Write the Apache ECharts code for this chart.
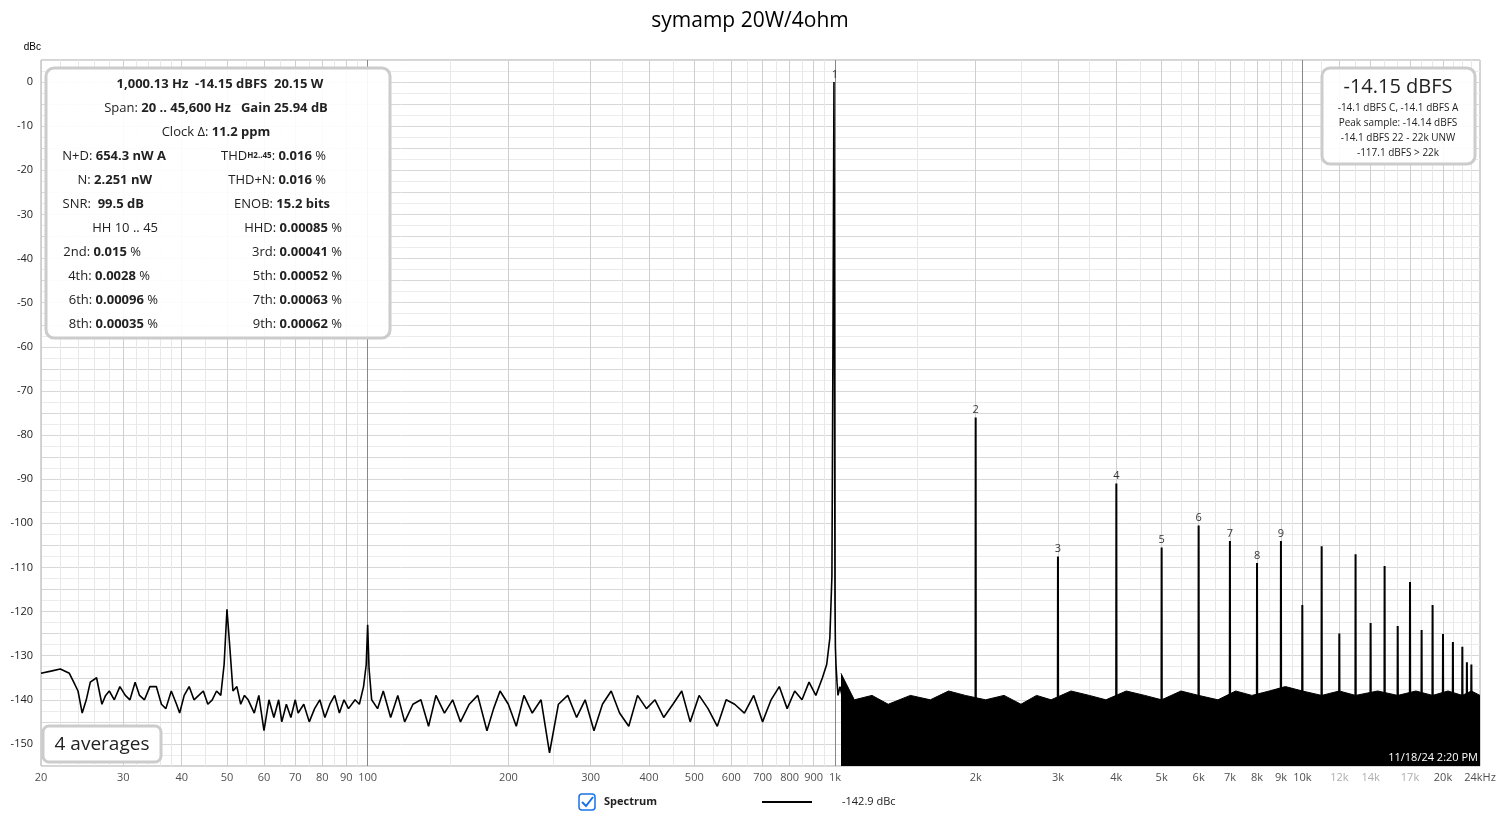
<!DOCTYPE html><html><head><meta charset="utf-8"><script src="https://cdn.jsdelivr.net/npm/echarts@6/dist/echarts.min.js"></script>
<style>html,body{margin:0;background:#fff}#c{width:1500px;height:814px}</style></head><body><div id="c"></div><script>
const lowFreq=[20,21,22,23,23.5,24,24.5,25,25.5,26.3,27,27.5,28,28.7,29.5,30.3,31,31.8,32.5,33.3,34.2,35.3,36.2,37,38,39,39.6,40.5,41.5,42.5,43.5,44.5,45.5,46.5,47.5,48.5,49.3,50,50.7,51.5,52.5,53.5,54.5,55.5,57.2,58.5,60,61.5,63,64.5,65.5,67,68.5,70,71,73,75,77,79,81,83,85,87,89,91,94,96,98,99.3,100,100.7,102,105,108,112,116,120,125,130,135,140,146,152,158,165,172,180,186,192,200,208,216,225,235,245,256,268,280,292,305,318,332,346,362,378,395,412,430,450,470,490,512,535,560,585,610,640,670,700,730,760,790,820,850,880,910,940,960,975,985,990,995,998,1000,1002,1005,1010,1015,1025,1040,1060,1080,1100];
const lowDb=[-134,-133.5,-133,-134,-136,-138,-143,-140,-136,-135,-141,-139,-138,-140,-137,-139,-140,-136,-139,-140,-137,-137,-141,-142,-138,-141,-143,-139,-137,-140,-139,-138,-141,-140,-138,-139,-132,-119.5,-128,-138,-137,-141,-139,-140,-143,-139,-147,-140,-144,-140,-145,-141,-144,-140,-143,-141,-145,-142,-140,-144,-141,-139,-143,-140,-142,-140,-141,-137,-132,-123,-133,-140,-142,-138,-144,-139,-145,-141,-140,-146,-139,-143,-140,-145,-141,-139,-147,-142,-138,-141,-146,-139,-143,-140,-152,-141,-139,-144,-140,-147,-141,-138,-143,-146,-139,-142,-140,-144,-141,-138,-145,-139,-142,-146,-140,-141,-143,-139,-145,-140,-137,-142,-138,-140,-136,-139,-135,-132,-126,-112,-60,0,-70,-118,-128,-132,-136,-139,-137,-140,-141];
const noiseFreq=[1030,1100,1200,1300,1450,1600,1750,1900,2100,2300,2500,2700,2900,3200,3500,3800,4200,4600,5000,5500,6000,6600,7200,7800,8500,9200,10000,11000,12000,13000,14500,16000,17500,19000,20500,22000,23000,24000];
const noiseTop=[-134,-140,-139,-141,-139,-140,-138,-139,-140,-139,-141,-139,-140,-138,-139,-140,-138,-139,-140,-138,-139,-140,-138,-139,-138,-137,-138,-139,-138,-139,-138,-139,-138,-139,-138,-139,-138,-139];
const harmFreq=[2000,3000,4000,5000,6000,7000,8000,9000,10000,11000,12000,13000,14000,15000,16000,17000,18000,19000,20000,21000,22000,22500,23000];
const harmDb=[-76,-107.5,-91,-105.5,-100.5,-104,-109,-104,-118.5,-105.2,-125,-107,-122.6,-109.7,-123.3,-113.3,-124.2,-118.5,-125.1,-126.9,-128,-131.5,-132];
const harmFloor=-141;
const tickVals=[20,30,40,50,60,70,80,90,100,200,300,400,500,600,700,800,900,1000,2000,3000,4000,5000,6000,7000,8000,9000,10000,12000,14000,17000,20000,24000];
const tickText=['20','30','40','50','60','70','80','90','100','200','300','400','500','600','700','800','900','1k','2k','3k','4k','5k','6k','7k','8k','9k','10k','12k','14k','17k','20k','24kHz'];
const grayTicks=['12k','14k','17k'];
const minorGrid=[22,24,26,28,32,34,36,38,45,55,65,75,85,95,150,250,350,450,550,650,750,850,950,1500,2500,3500,4500,5500,6500,7500,8500,9500,11000,13000,15000,16000,18000,19000,21000,22000,23000];

const spikeData=[];
harmFreq.forEach((f,i)=>{spikeData.push([f*0.999,harmFloor],[f,harmDb[i]],[f*1.001,harmFloor],'-');});
const labelData=[[1000,0,'1']].concat(harmFreq.slice(0,8).map((f,i)=>[f,harmDb[i],String(i+2)]));
const vLines=tickVals.filter(v=>v!==24000).map(v=>({xAxis:v,lineStyle:{type:'solid',width:1,color:[100,1000,10000].includes(v)?'#888':'#cfcfcf'}})).concat(minorGrid.map(v=>({xAxis:v,lineStyle:{type:'solid',width:1,color:'#e8e8e8'}})));
const F='"Open Sans", "Noto Sans", sans-serif';
const chart=echarts.init(document.getElementById('c'));
chart.setOption({
 animation:false,
 title:{text:'symamp 20W/4ohm',left:'center',top:6,textStyle:{fontFamily:F,fontSize:21,fontWeight:'normal',color:'#000'}},
 grid:{left:41,right:20,top:60,bottom:48,show:true,borderColor:'#aaa'},
 xAxis:{type:'log',logBase:10,min:20,max:24000,axisLabel:{show:false},axisTick:{show:false},axisLine:{show:false},splitLine:{show:false}},
 yAxis:{type:'value',min:-155,max:5,interval:5,name:'dBc',nameLocation:'end',nameGap:8,nameTextStyle:{fontSize:10,color:'#000',align:'right'},
  axisLabel:{fontSize:11,color:'#222',fontFamily:F,formatter:v=>v%10===0?String(v):''},axisTick:{show:false},axisLine:{show:false},
  splitLine:{lineStyle:{color:'#d8d8d8'}},minorTick:{show:false,splitNumber:2},minorSplitLine:{show:true,lineStyle:{color:'#ececec'}}},
 series:[
  {type:'line',data:[],z:0,markLine:{silent:true,symbol:'none',label:{show:false},z:0,data:vLines}},
  {type:'line',data:noiseFreq.map((f,i)=>[f,noiseTop[i]]),showSymbol:false,lineStyle:{color:'#000',width:1},areaStyle:{color:'#000',opacity:1,origin:'start'},z:3},
  {type:'line',data:lowFreq.map((f,i)=>[f,lowDb[i]]),showSymbol:false,lineStyle:{color:'#000',width:1.6},z:4},
  {type:'line',data:spikeData,showSymbol:false,connectNulls:false,lineStyle:{color:'#000',width:2},z:4},
  {type:'scatter',data:labelData,symbolSize:0,label:{show:true,position:'top',distance:2,formatter:p=>p.data[2],fontSize:11,color:'#000',fontFamily:F},z:5},
  {type:'scatter',data:tickVals.map((v,i)=>[v,-155,tickText[i]]),symbolSize:0,silent:true,label:{show:true,position:'bottom',distance:6,formatter:p=>grayTicks.includes(p.data[2])?'{g|'+p.data[2]+'}':p.data[2],fontSize:11,fontFamily:F,color:'#222',rich:{g:{color:'#999',fontSize:11,fontFamily:F}}},z:5}
 ],
 graphic:[
  {type:'rect',shape:{x:46,y:68,width:344,height:270,r:8},style:{fill:'rgba(255,255,255,0.92)',stroke:'#ccc',lineWidth:3},z:10},
  ...[
   [220,84,'{b|1,000.13 Hz  -14.15 dBFS  20.15 W}','center'],
   [216,108,'Span: {b|20 .. 45,600 Hz   Gain 25.94 dB}','center'],
   [216,132,'Clock Δ: {b|11.2 ppm}','center'],
   [166,156,'N+D: {b|654.3 nW A}','right'],[326,156,'THD{s|H2..45}: {b|0.016} %','right'],
   [152,180,'N: {b|2.251 nW}','right'],[326,180,'THD+N: {b|0.016} %','right'],
   [144,204,'SNR:  {b|99.5 dB}','right'],[330,204,'ENOB: {b|15.2 bits}','right'],
   [158,228,'HH 10 .. 45','right'],[342,228,'HHD: {b|0.00085} %','right'],
   [141,252,'2nd: {b|0.015} %','right'],[342,252,'3rd: {b|0.00041} %','right'],
   [150,276,'4th: {b|0.0028} %','right'],[342,276,'5th: {b|0.00052} %','right'],
   [158,300,'6th: {b|0.00096} %','right'],[342,300,'7th: {b|0.00063} %','right'],
   [158,324,'8th: {b|0.00035} %','right'],[342,324,'9th: {b|0.00062} %','right']
  ].map(t=>({type:'text',x:t[0],y:t[1],z:11,style:{text:t[2],align:t[3],verticalAlign:'middle',fontFamily:F,fontSize:13,fill:'#222',rich:{b:{fontWeight:'bold',fontSize:13,fontFamily:F},s:{fontWeight:'bold',fontSize:8,fontFamily:F}}}})),
  {type:'rect',shape:{x:1322,y:68,width:153,height:96,r:8},style:{fill:'rgba(255,255,255,0.92)',stroke:'#ccc',lineWidth:3},z:10},
  {type:'text',x:1398,y:87,z:11,style:{text:'-14.15 dBFS',align:'center',verticalAlign:'middle',fontFamily:F,fontSize:20,fill:'#222'}},
  ...['-14.1 dBFS C, -14.1 dBFS A','Peak sample: -14.14 dBFS','-14.1 dBFS 22 - 22k UNW','-117.1 dBFS > 22k'].map((s,i)=>({type:'text',x:1398,y:108+i*15,z:11,style:{text:s,align:'center',verticalAlign:'middle',fontFamily:F,fontSize:10,fill:'#222'}})),
  {type:'rect',shape:{x:43,y:726,width:118,height:36,r:6},style:{fill:'#fff',stroke:'#ccc',lineWidth:3},z:10},
  {type:'text',x:102,y:745,z:11,style:{text:'4 averages',align:'center',verticalAlign:'middle',fontFamily:F,fontSize:19,fill:'#222'}},
  {type:'text',x:1478,y:758,z:11,style:{text:'11/18/24 2:20 PM',align:'right',verticalAlign:'middle',fontFamily:F,fontSize:11,fill:'#fff',stroke:'#000',lineWidth:2}},
  {type:'rect',shape:{x:579,y:794,width:16,height:16,r:3},style:{fill:'#fff',stroke:'#1a73e8',lineWidth:1.5},z:10},
  {type:'polyline',shape:{points:[[582,802],[586,806],[593,797]]},style:{stroke:'#1a73e8',lineWidth:2,fill:null},z:11},
  {type:'text',x:604,y:802,z:11,style:{text:'Spectrum',verticalAlign:'middle',fontFamily:F,fontSize:11,fontWeight:'bold',fill:'#222'}},
  {type:'line',shape:{x1:762,y1:802,x2:812,y2:802},style:{stroke:'#000',lineWidth:2},z:11},
  {type:'text',x:842,y:802,z:11,style:{text:'-142.9 dBc',verticalAlign:'middle',fontFamily:F,fontSize:11,fill:'#222'}}
 ]
});
</script></body></html>
